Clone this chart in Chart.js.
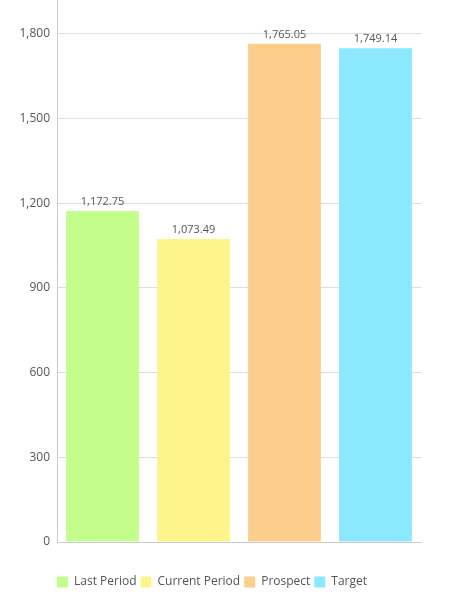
<!DOCTYPE html>
<html>
<head>
<meta charset="utf-8">
<script src="https://cdn.jsdelivr.net/npm/chart.js@4"></script>
<style>
    html, body { margin: 0; padding: 0; background: #fff; }
    #wrap { width: 452px; height: 600px; }
</style>
</head>
<body>
<div id="wrap"><canvas id="barChart"></canvas></div>
<script>
const seriesNames = ["Last Period", "Current Period", "Prospect", "Target"];
const seriesValues = [1172.75, 1073.49, 1765.05, 1749.14];
const seriesColors = ["#c3fd8b", "#fdf48c", "#fdcd8e", "#8ce8fd"];
const yTicks = [0, 300, 600, 900, 1200, 1500, 1800];

Chart.defaults.font.family = "'Open Sans', sans-serif";
Chart.defaults.color = "#555";

// value labels above each bar
const valueLabels = {
    id: "valueLabels",
    afterDatasetsDraw(chart) {
        const ctx = chart.ctx;
        ctx.save();
        ctx.font = "11px 'Open Sans', sans-serif";
        ctx.fillStyle = "#555";
        ctx.textAlign = "center";
        ctx.textBaseline = "alphabetic";
        chart.data.datasets.forEach((dataset, i) => {
            const bar = chart.getDatasetMeta(i).data[0];
            const text = dataset.data[0].toLocaleString("en-US", { minimumFractionDigits: 2 });
            ctx.fillText(text, bar.x, bar.y - 6);
        });
        ctx.restore();
    }
};

// nudge the legend to line up with the y axis
const legendShift = {
    id: "legendShift",
    afterLayout(chart) {
        chart.legend.left -= 4;
    }
};

const barChartElement = document.getElementById("barChart");
const barChart = new Chart(barChartElement, {
    type: 'bar',
    data: {
        labels: [""],
        datasets: seriesNames.map((name, i) => ({
            label: name,
            data: [seriesValues[i]],
            backgroundColor: seriesColors[i],
            borderWidth: 0
        }))
    },
    options: {
        responsive: true,
        maintainAspectRatio: false,
        animation: false,
        categoryPercentage: 1,
        barPercentage: 0.8,
        layout: {
            padding: { top: 0, right: 31, bottom: 2, left: 0 }
        },
        scales: {
            x: {
                grid: { display: false },
                ticks: { display: false },
                border: { color: "#ccc" },
                afterFit(scale) { scale.height = 30; }
            },
            y: {
                min: 0,
                max: 1920,
                afterBuildTicks(scale) {
                    scale.ticks = yTicks.map(v => ({ value: v }));
                },
                ticks: {
                    padding: 7,
                    font: { size: 12 },
                    color: "#555",
                    callback: (v) => v.toLocaleString("en-US")
                },
                grid: { color: "#ddd", drawTicks: false },
                border: { color: "#ccc" },
                afterFit(scale) {
                    scale.width = 57;
                    scale.paddingTop = 0;
                    scale.paddingBottom = 0;
                }
            }
        },
        plugins: {
            legend: {
                position: 'bottom',
                align: 'start',
                fullSize: false,
                labels: {
                    boxWidth: 11,
                    boxHeight: 11,
                    padding: 4,
                    color: "#555",
                    font: { size: 12 }
                }
            },
            tooltip: { enabled: false }
        }
    },
    plugins: [valueLabels, legendShift]
});
</script>
</body>
</html>
